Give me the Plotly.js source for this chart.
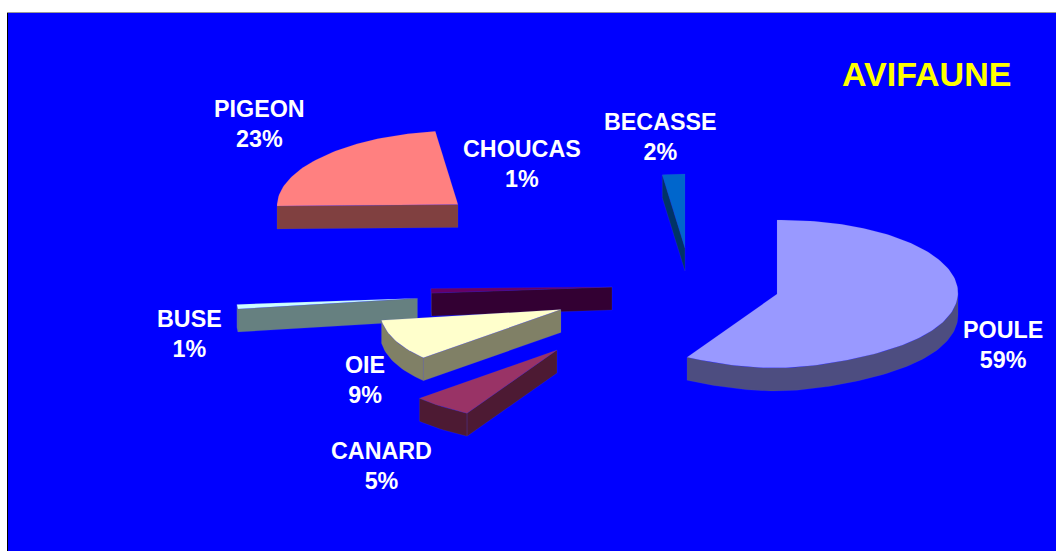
<!DOCTYPE html>
<html>
<head>
<meta charset="utf-8">
<script src="https://cdn.plot.ly/plotly-3.0.1.min.js"></script>
<style>html,body{margin:0;padding:0;background:#fff}#chart{width:1056px;height:551px}</style>
</head>
<body>
<div id="chart"></div>
<script>
// Bird species shares (percent), clockwise from twelve o'clock
const categories = ['POULE', 'CANARD', 'OIE', 'BUSE', 'CHOUCAS', 'PIGEON', 'BECASSE'];
const shares = [59, 5, 9, 1, 1, 23, 2];

// Slice styling
const topColors = ['#9999FF', '#993366', '#FFFFCC', '#CCFFFF', '#660066', '#FF8080', '#0066CC'];
const sideColors = ['#4D4D80', '#4D1A33', '#808066', '#668080', '#330033', '#804040', '#003366'];

// Where each exploded slice has its point on the page, and where its label sits
const apexX = [777, 557, 561, 417.5, 612, 458, 685];
const apexY = [294, 350, 309.5, 298.3, 287, 204.5, 248];
const labelX = [1003, 381, 365, 189, 522, 259, 660];
const labelY = [345, 466, 380, 334, 164, 123.5, 136.5];

// Projection of the tilted disc
const RX = 181, RY = 74, DEPTH = 23, TILT = 0.008, PINCH = 0.2;

function project(i, deg, r, drop) {
  const a = deg * Math.PI / 180;
  let dx = r * RX * Math.sin(a);
  const dy = -r * RY * Math.cos(a);
  const front = Math.max(0, dy / RY);
  dx *= 1 - PINCH * Math.pow(front, 6);
  return [apexX[i] + dx, apexY[i] + dy - TILT * dx + drop];
}

function arc(i, from, to, drop) {
  const pts = [];
  const n = Math.max(2, Math.ceil(Math.abs(to - from) / 1.5));
  for (let k = 0; k <= n; k++) pts.push(project(i, from + (to - from) * k / n, 1, drop));
  return pts;
}

function polygonTrace(loops, fill, edge) {
  const x = [], y = [];
  loops.forEach((loop, n) => {
    if (n) { x.push(null); y.push(null); }
    loop.concat([loop[0]]).forEach(p => { x.push(p[0]); y.push(p[1]); });
  });
  return {
    type: 'scatter', mode: 'lines', x, y, fill: 'toself', fillcolor: fill,
    line: {color: edge, width: 0.5}, hoverinfo: 'skip', showlegend: false
  };
}

// Accumulate start and end angles from the shares
const total = shares.reduce((s, v) => s + v, 0);
let running = 0;
const slices = shares.map((v, i) => {
  const start = running / total * 360;
  running += v;
  return {i, start, end: running / total * 360};
});

// Back-to-front paint order: slices lying higher on the page go first
const paintOrder = slices.slice().sort((a, b) => apexY[a.i] - apexY[b.i]);
paintOrder.splice(paintOrder.findIndex(s => s.i === 0), 1);
paintOrder.push(slices[0]);

const traces = [];
paintOrder.forEach(({i, start, end}) => {
  const sides = [];
  const apexTop = project(i, 0, 0, 0), apexLow = project(i, 0, 0, DEPTH);
  // Radial cut faces that turn towards the viewer
  if (Math.sin(start * Math.PI / 180) < -1e-6) {
    sides.push([apexTop, project(i, start, 1, 0), project(i, start, 1, DEPTH), apexLow]);
  }
  if (Math.sin(end * Math.PI / 180) > 1e-6) {
    sides.push([apexTop, project(i, end, 1, 0), project(i, end, 1, DEPTH), apexLow]);
  }
  // Outer rim on the near half of the disc
  const rimFrom = Math.max(start, 90), rimTo = Math.min(end, 270);
  if (rimTo > rimFrom) {
    sides.push(arc(i, rimFrom, rimTo, 0).concat(arc(i, rimTo, rimFrom, DEPTH)));
  }
  if (sides.length) traces.push(polygonTrace(sides, sideColors[i], 'rgba(80,80,230,0.35)'));
  traces.push(polygonTrace([[apexTop].concat(arc(i, start, end, 0))], topColors[i], 'rgba(80,80,230,0.25)'));
});

const font = {family: '"Liberation Sans", Arial, sans-serif', size: 23.3, color: '#FFFFFF'};
const annotations = categories.map((name, i) => ({
  x: labelX[i], y: labelY[i], xref: 'x', yref: 'y',
  text: '<b>' + name + '<br>' + shares[i] + '%</b>',
  showarrow: false, xanchor: 'center', yanchor: 'middle', align: 'center', font
}));
annotations.push({
  x: 926, y: 74, xref: 'x', yref: 'y', text: '<b>AVIFAUNE</b>', showarrow: false,
  xanchor: 'center', yanchor: 'middle',
  font: {family: font.family, size: 34, color: '#FFFF00'}
});

const layout = {
  width: 1056, height: 551,
  margin: {l: 8, r: 0, t: 13, b: 0, pad: 0},
  paper_bgcolor: '#FFFFFF', plot_bgcolor: '#0000FF',
  showlegend: false,
  xaxis: {range: [8, 1056], side: 'top', showgrid: false, zeroline: false, showticklabels: false,
          ticks: '', showline: true, linecolor: '#999999', linewidth: 1, fixedrange: true},
  yaxis: {range: [551, 13], showgrid: false, zeroline: false, showticklabels: false,
          ticks: '', showline: true, linecolor: '#000000', linewidth: 1, fixedrange: true},
  annotations
};

Plotly.newPlot('chart', traces, layout, {displayModeBar: false, staticPlot: true});
</script>
</body>
</html>
